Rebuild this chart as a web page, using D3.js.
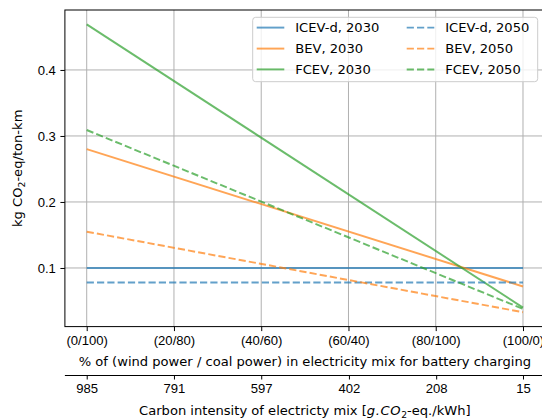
<!DOCTYPE html>
<html>
<head>
<meta charset="utf-8">
<script src="https://cdn.jsdelivr.net/npm/d3@7"></script>
<style>
  html, body { margin: 0; padding: 0; background: #fff; }
  svg { display: block; font-family: "DejaVu Sans", sans-serif; }
  .axis text { font-size: 13.1px; fill: #000; }
  .axis path, .axis line { stroke: #000; stroke-width: 1; }
</style>
</head>
<body>
<svg id="chart" width="542" height="419"></svg>
<script>
// Share of wind power in the charging mix (end points of each scenario line)
const windShare = [0, 100];

// Emissions, kg CO2-eq per ton-km
const icev2030 = [0.100, 0.100];
const icev2050 = [0.078, 0.078];
const bev2030  = [0.280, 0.072];
const bev2050  = [0.155, 0.033];
const fcev2030 = [0.469, 0.040];
const fcev2050 = [0.309, 0.038];

// Tick labels
const shareTicks = [0, 20, 40, 60, 80, 100];
const shareTickLabels = ["(0/100)", "(20/80)", "(40/60)", "(60/40)", "(80/100)", "(100/0)"];
const intensityTicks = [985, 791, 597, 402, 208, 15];
const yTicks = [0.1, 0.2, 0.3, 0.4];

const DASH = "7.2,3.1";
const series = [
  { name: "ICEV-d, 2030", values: icev2030, color: "#1f77b4", dash: null },
  { name: "BEV, 2030",    values: bev2030,  color: "#ff7f0e", dash: null },
  { name: "FCEV, 2030",   values: fcev2030, color: "#2ca02c", dash: null },
  { name: "ICEV-d, 2050", values: icev2050, color: "#1f77b4", dash: DASH },
  { name: "BEV, 2050",    values: bev2050,  color: "#ff7f0e", dash: DASH },
  { name: "FCEV, 2050",   values: fcev2050, color: "#2ca02c", dash: DASH }
];

const svg = d3.select("#chart");
const pL = 64.9, pR = 544.8, pT = 10, pB = 326.6;

// 5% padding around the data on both axes
const allVals = series.flatMap(s => s.values);
const yMin = d3.min(allVals), yMax = d3.max(allVals);
const yPad = (yMax - yMin) * 0.05;

const x = d3.scaleLinear().domain([-5, 105]).range([pL, pR]);
const y = d3.scaleLinear().domain([yMin - yPad, yMax + yPad]).range([pB, pT]);

// Grid
const grid = svg.append("g").attr("stroke", "#b0b0b0").attr("stroke-width", 1);
grid.selectAll("line.gx").data(shareTicks).join("line").attr("class", "gx")
  .attr("x1", d => x(d)).attr("x2", d => x(d))
  .attr("y1", pT).attr("y2", pB);
grid.selectAll("line.gy").data(yTicks).join("line").attr("class", "gy")
  .attr("x1", pL).attr("x2", pR)
  .attr("y1", d => y(d)).attr("y2", d => y(d));

// Clip to the axes area
svg.append("clipPath").attr("id", "plotArea")
  .append("rect").attr("x", pL).attr("y", pT)
  .attr("width", pR - pL).attr("height", pB - pT);

const line = d3.line().x((d, i) => x(windShare[i])).y(d => y(d));
svg.append("g").attr("clip-path", "url(#plotArea)")
  .selectAll("path").data(series).join("path")
  .attr("d", d => line(d.values))
  .attr("fill", "none")
  .attr("stroke", d => d.color)
  .attr("stroke-opacity", 0.7)
  .attr("stroke-width", 1.95)
  .attr("stroke-dasharray", d => d.dash);

// Frame
svg.append("rect").attr("x", pL).attr("y", pT)
  .attr("width", pR - pL).attr("height", pB - pT)
  .attr("fill", "none").attr("stroke", "#000").attr("stroke-width", 1);

// Y axis
const yAxis = svg.append("g").attr("class", "axis")
  .attr("transform", `translate(${pL},0)`)
  .call(d3.axisLeft(y).tickValues(yTicks).tickFormat(d3.format(".1f"))
        .tickSize(4.5).tickPadding(4.5));
yAxis.select(".domain").remove();

// Primary X axis
const xAxis = svg.append("g").attr("class", "axis")
  .attr("transform", `translate(0,${pB})`)
  .call(d3.axisBottom(x).tickValues(shareTicks)
        .tickFormat((d, i) => shareTickLabels[i])
        .tickSize(4.5).tickPadding(4));
xAxis.select(".domain").remove();
xAxis.selectAll("text").attr("dy", "0.72em");

// Secondary X axis: carbon intensity of the mix
const xi = d3.scaleLinear().domain([985, 15]).range([x(0), x(100)]);
const xAxis2 = svg.append("g").attr("class", "axis")
  .attr("transform", "translate(0,375)")
  .call(d3.axisBottom(xi).tickValues(intensityTicks).tickFormat(d3.format("d"))
        .tickSize(4.5).tickPadding(4));
xAxis2.select(".domain").attr("d", `M${pL},0.5H${pR}`);
xAxis2.selectAll("text").attr("dy", "0.72em");

const cx = (pL + pR) / 2;

// Axis labels
svg.append("text")
  .attr("x", cx).attr("y", 365.5)
  .attr("text-anchor", "middle").attr("font-size", 13.1)
  .text("% of (wind power / coal power) in electricity mix for battery charging");

const lab2 = svg.append("text")
  .attr("x", cx).attr("y", 414.5)
  .attr("text-anchor", "middle").attr("font-size", 13.1);
lab2.append("tspan").text("Carbon intensity of electricty mix [");
lab2.append("tspan").attr("font-style", "italic").attr("letter-spacing", 0.6).text("g.CO");
lab2.append("tspan").attr("font-size", 9.2).attr("dy", 3).text("2");
lab2.append("tspan").attr("dy", -3).text("-eq./kWh]");

const ylab = svg.append("text")
  .attr("transform", `translate(22,${(pT + pB) / 2}) rotate(-90)`)
  .attr("text-anchor", "middle").attr("font-size", 13.1);
ylab.append("tspan").text("kg CO");
ylab.append("tspan").attr("font-size", 9.2).attr("dy", 3).text("2");
ylab.append("tspan").attr("dy", -3).text("-eq/ton-km");

// Legend
const lg = svg.append("g");
lg.append("rect").attr("x", 252.7).attr("y", 17.3).attr("width", 285).attr("height", 64.4)
  .attr("rx", 3).attr("fill", "#fff").attr("fill-opacity", 0.8)
  .attr("stroke", "#cccccc").attr("stroke-width", 1);
const colX = [256.7, 406.7];
const rowY = [27.6, 48.6, 69.4];
const items = lg.selectAll("g.item").data(series).join("g").attr("class", "item")
  .attr("transform", (d, i) => `translate(${colX[Math.floor(i / 3)]},${rowY[i % 3]})`);
items.append("line").attr("x1", 0).attr("x2", 27.6).attr("y1", 0).attr("y2", 0)
  .attr("stroke", d => d.color).attr("stroke-opacity", 0.7)
  .attr("stroke-width", 1.95).attr("stroke-dasharray", d => d.dash);
items.append("text").attr("x", 38.5).attr("y", 0).attr("dy", "0.36em")
  .attr("font-size", 13.1).text(d => d.name);
</script>
</body>
</html>
